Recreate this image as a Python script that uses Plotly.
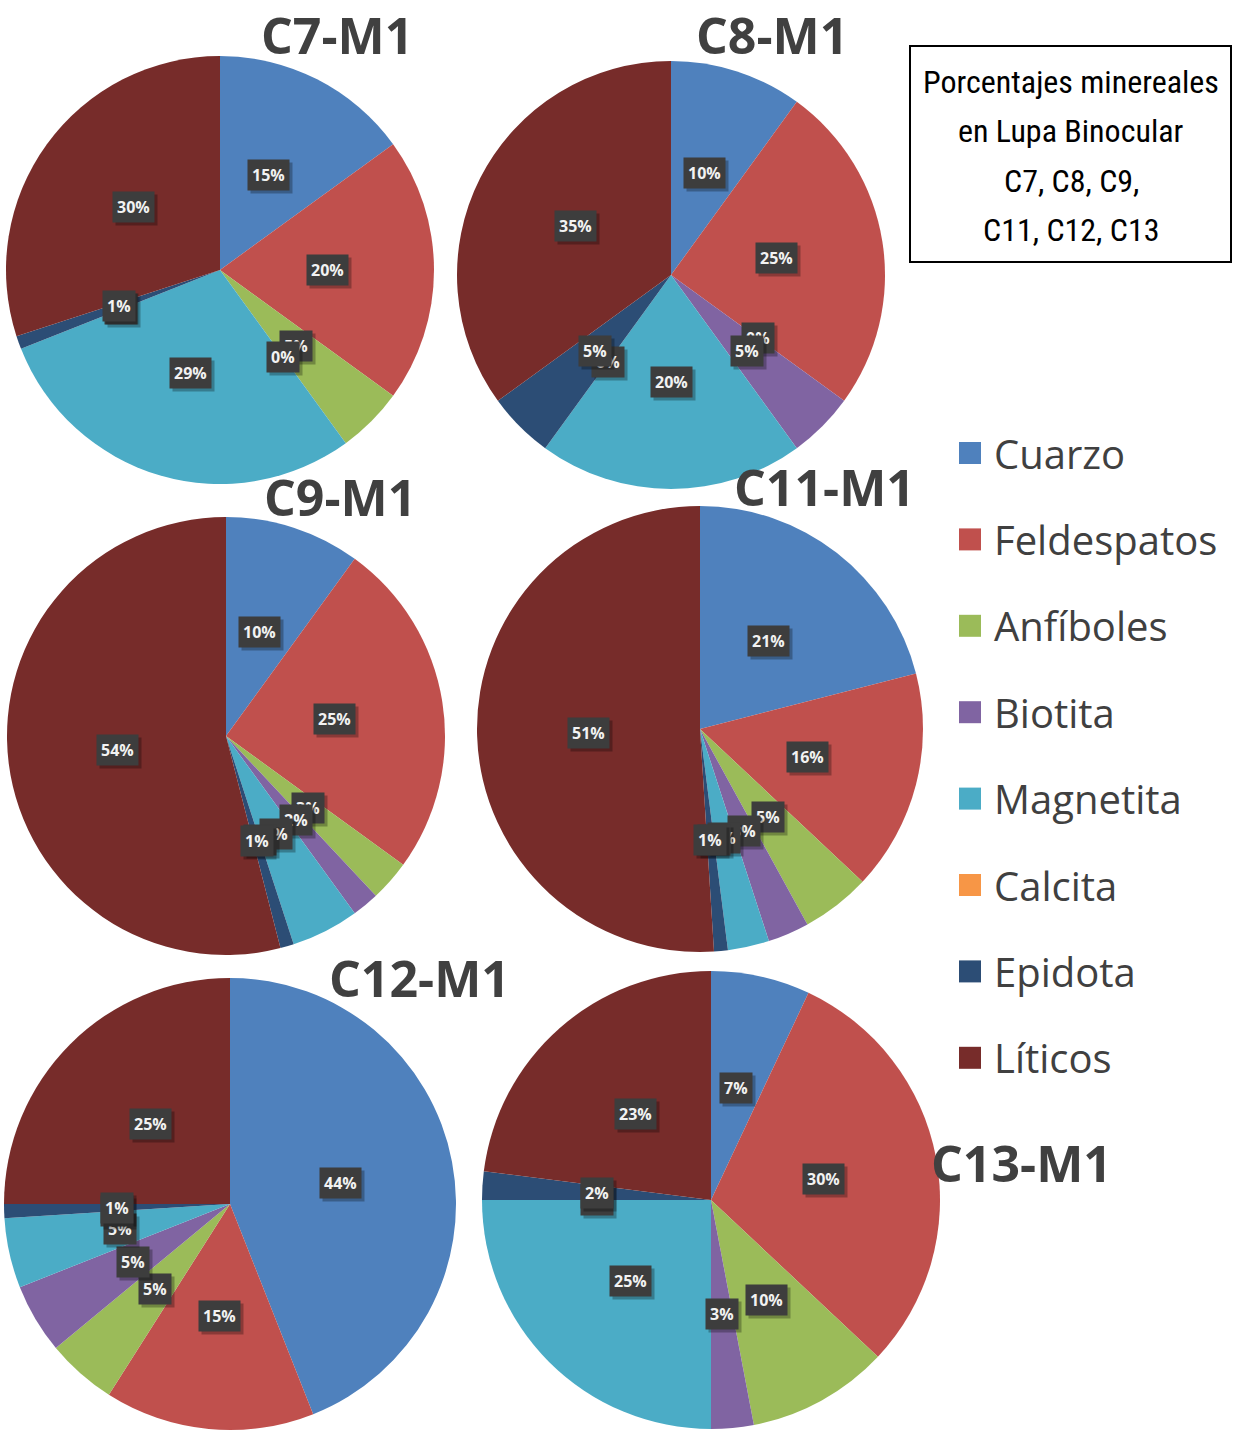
import math
import plotly.graph_objects as go

# Mineral categories and their colours
categories = ["Cuarzo", "Feldespatos", "Anfíboles", "Biotita",
              "Magnetita", "Calcita", "Epidota", "Líticos"]
colors = ["#4F81BD", "#C0504D", "#9BBB59", "#8064A2",
          "#4BACC6", "#F79646", "#2C4D75", "#772C2A"]

# Percentages per sample (same order as categories)
c7_m1 = [15, 20, 5, 0, 29, 0, 1, 30]
c8_m1 = [10, 25, 0, 5, 20, 0, 5, 35]
c9_m1 = [10, 25, 3, 2, 5, 0, 1, 54]
c11_m1 = [21, 16, 5, 3, 3, 0, 1, 51]
c12_m1 = [44, 15, 5, 5, 5, 0, 1, 25]
c13_m1 = [7, 30, 10, 3, 25, 0, 2, 23]

sample_names = ["C7-M1", "C8-M1", "C9-M1", "C11-M1", "C12-M1", "C13-M1"]
sample_values = [c7_m1, c8_m1, c9_m1, c11_m1, c12_m1, c13_m1]

box_lines = ["Porcentajes minereales", "en Lupa Binocular",
             "C7, C8, C9,", "C11, C12, C13"]

W, H = 1233, 1440

# Layout: pie centre (px) and radius (px), and title position (px)
pie_geom = {
    "C7-M1": (220, 270, 214),
    "C8-M1": (671, 275, 214),
    "C9-M1": (226, 736, 219),
    "C11-M1": (700, 729, 223),
    "C12-M1": (230, 1204, 226),
    "C13-M1": (711, 1200, 229),
}
title_pos = {
    "C7-M1": (337, 35),
    "C8-M1": (772, 35),
    "C9-M1": (340, 497),
    "C11-M1": (824, 487),
    "C12-M1": (420, 978),
    "C13-M1": (1022, 1163),
}


def px_x(x):
    return x / W


def px_y(y):
    return 1 - y / H


fig = go.Figure()
annotations = []
shapes = []

for name, vals in zip(sample_names, sample_values):
    cx, cy, r = pie_geom[name]
    fig.add_trace(go.Pie(
        labels=categories,
        values=vals,
        sort=False,
        direction="clockwise",
        rotation=0,
        marker=dict(colors=colors, line=dict(width=0)),
        textinfo="none",
        hoverinfo="label+percent",
        showlegend=False,
        domain=dict(x=[px_x(cx - r), px_x(cx + r)],
                    y=[px_y(cy + r), px_y(cy - r)]),
    ))

    # data labels at half radius, on the middle angle of each slice
    total = sum(vals)
    cum = 0
    for v in vals:
        mid = (cum + v / 2) / total * 2 * math.pi
        cum += v
        lx = cx + 0.5 * r * math.sin(mid)
        ly = cy - 0.5 * r * math.cos(mid)
        txt = f"{round(v / total * 100)}%"
        # drop shadow
        annotations.append(dict(
            x=px_x(lx), y=px_y(ly), xref="paper", yref="paper",
            text=txt, showarrow=False, xanchor="center", yanchor="middle",
            xshift=3, yshift=-3,
            font=dict(family="Open Sans", size=16, color="rgba(0,0,0,0)", weight="bold"),
            bgcolor="rgba(0,0,0,0.28)", borderpad=4,
        ))
        annotations.append(dict(
            x=px_x(lx), y=px_y(ly), xref="paper", yref="paper",
            text=txt, showarrow=False, xanchor="center", yanchor="middle",
            font=dict(family="Open Sans", size=16, color="#F2F2F2", weight="bold"),
            bgcolor="#3D3D3D", borderpad=4,
        ))

# Chart titles
for name in sample_names:
    tx, ty = title_pos[name]
    annotations.append(dict(
        x=px_x(tx), y=px_y(ty), xref="paper", yref="paper",
        text=name, showarrow=False, xanchor="center", yanchor="middle",
        font=dict(family="Open Sans", size=50, color="#404040", weight="bold"),
    ))

# Legend drawn on the right
leg_x, leg_y0, leg_step = 959, 453, 86.4
for i, (cat, col) in enumerate(zip(categories, colors)):
    yc = leg_y0 + i * leg_step
    shapes.append(dict(
        type="rect", xref="paper", yref="paper",
        x0=px_x(leg_x), x1=px_x(leg_x + 22),
        y0=px_y(yc + 11), y1=px_y(yc - 11),
        fillcolor=col, line=dict(width=0),
    ))
    annotations.append(dict(
        x=px_x(leg_x + 33), y=px_y(yc), xref="paper", yref="paper",
        text=cat, showarrow=False, xanchor="left", yanchor="middle",
        font=dict(family="Open Sans", size=40, color="#404040"),
    ))

# Boxed caption in the top-right corner
shapes.append(dict(
    type="rect", xref="paper", yref="paper",
    x0=px_x(910), x1=px_x(1231), y0=px_y(262), y1=px_y(46),
    fillcolor="white", line=dict(color="black", width=2),
))
for i, line in enumerate(box_lines):
    annotations.append(dict(
        x=px_x(1071), y=px_y(82 + i * 49.3), xref="paper", yref="paper",
        text=line, showarrow=False, xanchor="center", yanchor="middle",
        font=dict(family="Roboto Condensed, Liberation Sans Narrow, Roboto",
                  size=32, color="black", weight=400),
    ))

fig.update_layout(
    width=W, height=H,
    margin=dict(l=0, r=0, t=0, b=0),
    paper_bgcolor="white",
    plot_bgcolor="white",
    showlegend=False,
    annotations=annotations,
    shapes=shapes,
)

fig.write_html("out.html")
